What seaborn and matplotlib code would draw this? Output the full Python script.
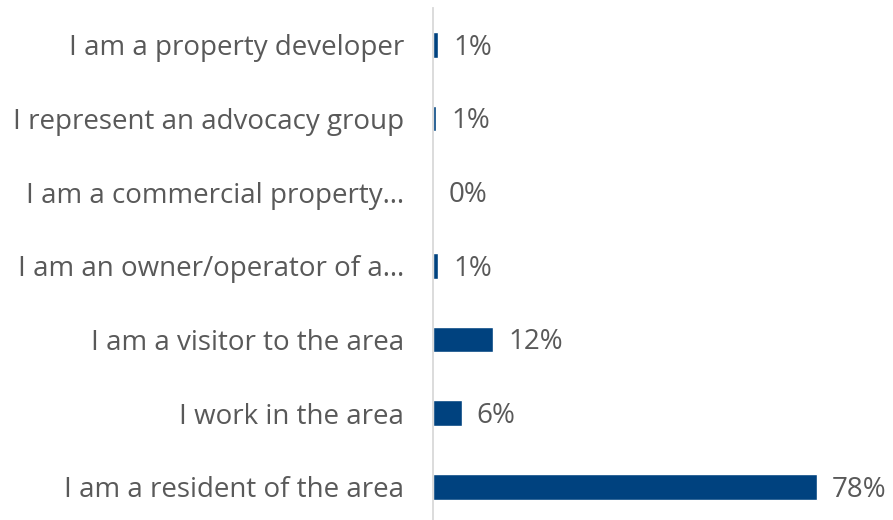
import numpy as np
import pandas as pd
import matplotlib as mpl
mpl.use("Agg")
import matplotlib.pyplot as plt
import seaborn as sns

# Survey data (top to bottom as shown)
categories = ["I am a property developer",
              "I represent an advocacy group",
              "I am a commercial property\u2026",
              "I am an owner/operator of a\u2026",
              "I am a visitor to the area",
              "I work in the area",
              "I am a resident of the area"]
values = [1.1, 0.6, 0.0, 1.0, 12.2, 5.8, 78.0]

df = pd.DataFrame({"Respondent": categories, "Percent": values})

sns.set_theme(style="white")
plt.rcParams["font.family"] = ["Open Sans", "DejaVu Sans"]

bar_color = "#00427f"
text_color = "#595959"

fig = plt.figure(figsize=(8.93, 5.2), dpi=100)
ax = fig.add_axes([433 / 893, 0.0, 457 / 893, 1 - 8 / 520])

sns.barplot(data=df, y="Respondent", x="Percent", orient="h",
            color=bar_color, width=0.35, saturation=1, ax=ax)

# value labels to the right of each bar
for i, v in enumerate(values):
    ax.annotate(f"{round(v)}%", xy=(v, i), xytext=(11, -2),
                textcoords="offset points", ha="left", va="center",
                fontsize=20, color=text_color)

ax.set_xlim(0, 92.9)
ax.set_ylim(6.45, -0.5)
ax.set_xlabel("")
ax.set_ylabel("")
ax.set_xticks([])
ax.tick_params(axis="y", length=0, pad=21, labelsize=20, labelcolor=text_color)

for side in ["top", "right", "bottom"]:
    ax.spines[side].set_visible(False)
ax.spines["left"].set_color("#d9d9d9")
ax.spines["left"].set_linewidth(1.3)

fig.savefig("out.png", dpi=100)
